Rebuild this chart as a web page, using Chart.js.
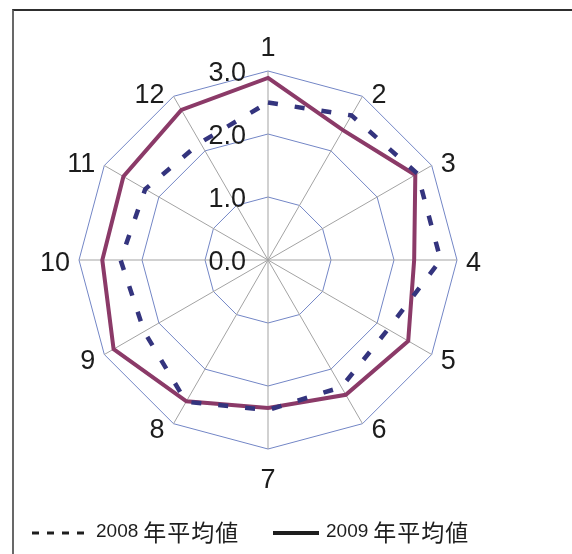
<!DOCTYPE html>
<html>
<head>
<meta charset="utf-8">
<script src="https://cdn.jsdelivr.net/npm/chart.js@4/dist/chart.umd.min.js"></script>
<style>
  html, body { margin:0; padding:0; width:572px; height:554px; overflow:hidden; background:#fff; }
  #frame { position:absolute; left:12px; top:9px; width:700px; height:700px; border-top:2px solid #2e2e2e; border-left:2px solid #686868; }
  #c { position:absolute; left:0; top:0; }
  #legend { position:absolute; left:0; top:514px; width:572px; height:34px; font-family:"Liberation Sans", Arial, sans-serif; color:#1e1e1e; }
  .item { position:absolute; top:0; height:34px; display:flex; align-items:center; white-space:nowrap; }
  .num { font-size:19px; }
  .cjk { font-family:"Noto Sans CJK JP", sans-serif; font-size:23px; margin-left:5px; letter-spacing:1px; }
  svg { display:block; }
</style>
</head>
<body>
<div id="frame"></div>
<canvas id="c" width="572" height="554"></canvas>
<div id="legend"></div>
<script>
// ---- data ----
const categories = ['1','2','3','4','5','6','7','8','9','10','11','12'];
const avg2008 = [2.50, 2.65, 2.74, 2.74, 2.20, 2.33, 2.38, 2.60, 2.27, 2.34, 2.25, 2.15];
const avg2009 = [2.89, 2.38, 2.70, 2.32, 2.57, 2.47, 2.35, 2.59, 2.83, 2.63, 2.65, 2.75];
const tickValues = [0, 1, 2, 3];
const tickLabels = ['0.0', '1.0', '2.0', '3.0'];
const seriesNames = ['2008', '2009'];
const seriesSuffix = '年平均値';

const COL2008 = '#34347e';
const COL2009 = '#8b3a68';
const LABEL_FONT = '27px "Liberation Sans", Arial, sans-serif';

const labelPlugin = {
  id: 'customLabels',
  afterDraw(chart) {
    const s = chart.scales.r;
    const ctx = chart.ctx;
    ctx.save();
    ctx.fillStyle = '#1c1c1c';
    ctx.font = LABEL_FONT;
    // tick labels (left of the vertical axis)
    ctx.textAlign = 'right';
    ctx.textBaseline = 'middle';
    tickValues.forEach((v, i) => {
      const y = s.yCenter - s.getDistanceFromCenterForValue(v);
      ctx.fillText(tickLabels[i], s.xCenter - 22, y + 3);
    });
    // category labels
    categories.forEach((lab, i) => {
      const p = s.getPointPosition(i, s.drawingArea);
      const dx = p.x - s.xCenter, dy = p.y - s.yCenter;
      ctx.textBaseline = 'middle';
      if (Math.abs(dx) < 1) {
        ctx.textAlign = 'center';
        ctx.fillText(lab, p.x, p.y + (dy < 0 ? -22 : 32));
      } else {
        ctx.textAlign = dx > 0 ? 'left' : 'right';
        const yOff = dy > 1 ? 7 : (dy < -1 ? -1 : 4);
        ctx.fillText(lab, p.x + (dx > 0 ? 9 : -9), p.y + yOff);
      }
    });
    ctx.restore();
  }
};

new Chart(document.getElementById('c'), {
  type: 'radar',
  data: {
    labels: categories,
    datasets: [
      { label: seriesNames[0] + ' ' + seriesSuffix, data: avg2008, borderColor: COL2008, borderWidth: 4.5, borderDash: [10, 17], fill: false, pointRadius: 0 },
      { label: seriesNames[1] + ' ' + seriesSuffix, data: avg2009, borderColor: COL2009, borderWidth: 4, fill: false, pointRadius: 0, borderJoinStyle: 'miter' }
    ]
  },
  options: {
    responsive: false,
    animation: false,
    devicePixelRatio: 1,
    layout: { padding: { left: 79, right: 115, top: 71, bottom: 105 } },
    plugins: { legend: { display: false }, tooltip: { enabled: false } },
    elements: { line: { tension: 0 } },
    scales: {
      r: {
        min: 0, max: 3,
        ticks: { stepSize: 1, display: false },
        pointLabels: { display: false },
        grid: { color: '#7386c6', lineWidth: 1 },
        angleLines: { color: '#a3a3a3', lineWidth: 1 }
      }
    }
  },
  plugins: [labelPlugin]
});

// legend (HTML)
const legend = document.getElementById('legend');
function addItem(left, dashed, name) {
  const d = document.createElement('div');
  d.className = 'item';
  d.style.left = left + 'px';
  const sampleW = dashed ? 54 : 46;
  const line = dashed
    ? `<line x1="0" y1="5" x2="${sampleW}" y2="5" stroke="#1e1e1e" stroke-width="3" stroke-dasharray="7 8"/>`
    : `<line x1="0" y1="5" x2="${sampleW}" y2="5" stroke="#1e1e1e" stroke-width="4"/>`;
  d.innerHTML = `<svg width="${sampleW}" height="10" style="margin-right:${dashed ? 10 : 7}px;margin-top:3px">${line}</svg>` +
    `<span class="num">${name}</span><span class="cjk">${seriesSuffix}</span>`;
  legend.appendChild(d);
}
addItem(32, true, seriesNames[0]);
addItem(273, false, seriesNames[1]);
</script>
</body>
</html>
